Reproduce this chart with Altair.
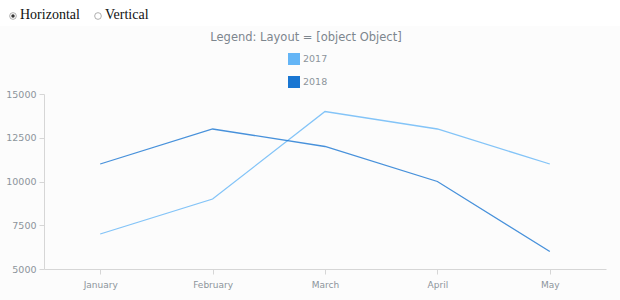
import altair as alt
import pandas as pd

months = ["January", "February", "March", "April", "May"]
series_2017 = [7000, 9000, 14000, 13000, 11000]
series_2018 = [11000, 13000, 12000, 10000, 6000]
years = ["2017", "2018"]
colors = ["#64b5f6", "#1976d2"]
y_ticks = [5000, 7500, 10000, 12500, 15000]

rows = []
for m, a, b in zip(months, series_2017, series_2018):
    rows.append({"month": m, "year": "2017", "value": a})
    rows.append({"month": m, "year": "2018", "value": b})
df = pd.DataFrame(rows)

FONT = "DejaVu Sans"
GRAY = "#8c949b"

x_enc = alt.X("month:N", sort=months, title=None,
              scale=alt.Scale(paddingInner=0, paddingOuter=0),
              axis=alt.Axis(labelAngle=0, bandPosition=0, tickSize=5, labelPadding=6,
                            labelFontSize=9, labelColor=GRAY, labelFont=FONT,
                            domainColor="#d6d6d6", tickColor="#d6d6d6", grid=False))
y_enc = alt.Y("value:Q", title=None,
              scale=alt.Scale(domain=[5000, 15000], nice=False),
              axis=alt.Axis(values=y_ticks, format="d", tickSize=5, labelPadding=3,
                            labelFontSize=9.5, labelColor=GRAY, labelFont=FONT,
                            domainColor="#d6d6d6", tickColor="#d6d6d6", grid=False))

lines = alt.Chart(df).mark_line(strokeWidth=1.3, opacity=0.8).encode(
    x=x_enc, y=y_enc,
    stroke=alt.Stroke("year:N", scale=alt.Scale(domain=years, range=colors),
                      legend=alt.Legend(orient="none", legendX=244, legendY=-41,
                                        title=None, symbolType="square", symbolSize=36,
                                        symbolStrokeWidth=6, symbolOpacity=1,
                                        labelFontSize=9.5, labelColor=GRAY, labelFont=FONT,
                                        labelOffset=3, rowPadding=-7)),
)

top_strip = alt.Chart(pd.DataFrame({"a": [0]})).mark_rect(color="white").encode(
    x=alt.value(-44), x2=alt.value(576), y=alt.value(-94), y2=alt.value(-68)
)

title = alt.Chart(pd.DataFrame({"t": ["Legend: Layout = [object Object]"]})).mark_text(
    font=FONT, fontSize=11.5, color="#7d868e", align="center", baseline="middle"
).encode(text="t:N", x=alt.value(262), y=alt.value(-56))

radio_labels = ["Horizontal", "Vertical"]
radio_x = [-31, 54]
radio_df = pd.DataFrame({"label": radio_labels, "rx": radio_x,
                         "tx": [x + 7 for x in radio_x]})

radio_circles = alt.Chart(radio_df).mark_point(
    shape="circle", size=45, filled=False, stroke="#9a9a9a", strokeWidth=0.8, opacity=1
).encode(x=alt.X("rx:Q", scale=None), y=alt.value(-78))

radio_dot = alt.Chart(radio_df.iloc[[0]]).mark_point(
    shape="circle", size=12, filled=True, color="#333333", opacity=1
).encode(x=alt.X("rx:Q", scale=None), y=alt.value(-78))

radio_text = alt.Chart(radio_df).mark_text(
    font="Liberation Serif", fontSize=14, color="#111111", align="left", baseline="alphabetic"
).encode(text="label:N", x=alt.X("tx:Q", scale=None), y=alt.value(-75))

chart = alt.layer(top_strip, lines, title, radio_circles, radio_dot, radio_text).properties(
    width=562, height=175,
    autosize=alt.AutoSizeParams(type="none"),
    padding={"left": 44, "top": 94, "right": 14, "bottom": 31},
    background="#fcfcfc",
).configure_view(stroke=None)

chart.save("out.html", embed_options={"renderer": "svg", "actions": False})
